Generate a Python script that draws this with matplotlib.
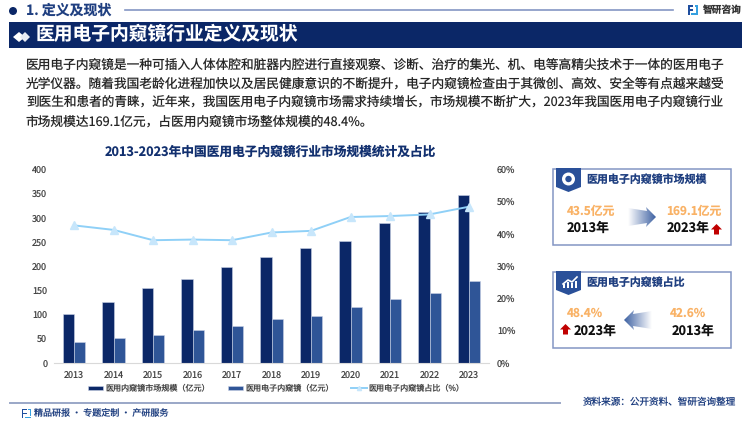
"""Medical electronic endoscope market slide."""

import matplotlib
matplotlib.use("Agg")
import matplotlib.pyplot as plt
import numpy as np
from matplotlib.patches import Circle, Polygon, Rectangle

plt.rcParams["font.family"] = ["Noto Sans CJK SC", "DejaVu Sans"]
plt.rcParams["text.hinting"] = "no_hinting"

years = ["2013", "2014", "2015", "2016", "2017", "2018", "2019", "2020", "2021", "2022", "2023"]
endoscope_market = [100, 125, 155, 174, 197, 219, 238, 252, 288, 311, 347]
electronic_market = [43.5, 51, 58, 67, 75, 90, 97, 115, 132, 144, 169.1]
electronic_share = [42.6, 41.2, 38.0, 38.2, 38.0, 40.4, 40.9, 45.2, 45.5, 46.0, 48.4]
left_ticks = [0, 50, 100, 150, 200, 250, 300, 350, 400]
right_ticks = [0, 10, 20, 30, 40, 50, 60]

series_names = ["医用内窥镜市场规模（亿元）", "医用电子内窥镜（亿元）", "医用电子内窥镜占比（%）"]
body_lines = [
    "医用电子内窥镜是一种可插入人体体腔和脏器内腔进行直接观察、诊断、治疗的集光、机、电等高精尖技术于一体的医用电子",
    "光学仪器。随着我国老龄化进程加快以及居民健康意识的不断提升，电子内窥镜检查由于其微创、高效、安全等有点越来越受",
    "到医生和患者的青睐，近年来，我国医用电子内窥镜市场需求持续增长，市场规模不断扩大，2023年我国医用电子内窥镜行业",
    "市场规模达169.1亿元，占医用内窥镜市场整体规模的48.4%。",
]
body_sizes = [9.15, 9.15, 9.1, 9.15]

NAVY = "#0B2767"
BLUE = "#2F5597"
SKY = "#8FD0F7"
ORANGE = "#F9B266"
RED = "#C00000"
BORDER = "#8496C4"

W, H = 750, 421
fig = plt.figure(figsize=(W / 100, H / 100), dpi=100, facecolor="white")

# page layer in pixel coordinates
page = fig.add_axes([0, 0, 1, 1])
page.set_xlim(0, W)
page.set_ylim(H, 0)
page.axis("off")


def put(x, y, s, size, color="#222222", bold=False, ha="left"):
    page.text(x, y, s, fontsize=size, color=color, ha=ha, va="center",
              fontweight="bold" if bold else "normal")


def logo(x, y, s=1.0):
    page.add_patch(Rectangle((x, y), 5 * s, 1.6 * s, color="#1F4E9E", lw=0))
    page.add_patch(Rectangle((x, y), 1.6 * s, 10 * s, color="#1F4E9E", lw=0))
    page.add_patch(Rectangle((x, y + 4 * s), 5 * s, 1.6 * s, color="#1F4E9E", lw=0))
    page.add_patch(Rectangle((x + 6.5 * s, y), 3.5 * s, 1.6 * s, color="#35A0E0", lw=0))
    page.add_patch(Rectangle((x + 8.4 * s, y), 1.6 * s, 8 * s, color="#35A0E0", lw=0))
    page.add_patch(Rectangle((x + 3 * s, y + 8.4 * s), 7 * s, 1.6 * s, color="#35A0E0", lw=0))


def gradient_arrow(x0, x1, y0, y1, to_right):
    # shaded arrow, fading towards its tail
    mid = (y0 + y1) / 2
    if to_right:
        pts = [(x0, y0 + 1), (x1 - 9, y0 + 4), (x1 - 10, y0), (x1, mid), (x1 - 10, y1),
               (x1 - 9, y1 - 4), (x0, y1 - 1)]
        ramp = np.linspace(0, 1, 64)
    else:
        pts = [(x1, y0 + 1), (x0 + 9, y0 + 4), (x0 + 10, y0), (x0, mid), (x0 + 10, y1),
               (x0 + 9, y1 - 4), (x1, y1 - 1)]
        ramp = np.linspace(1, 0, 64)
    tip = np.array([0x3F, 0x62, 0xA3]) / 255
    rgb = np.ones((1, 64, 3)) * (1 - ramp[None, :, None]) + tip * ramp[None, :, None]
    im = page.imshow(rgb, extent=(x0, x1, y1, y0), aspect="auto", zorder=2)
    poly = Polygon(pts, closed=True, transform=page.transData, fc="none", ec="none")
    page.add_patch(poly)
    im.set_clip_path(poly)
    page.set_xlim(0, W)
    page.set_ylim(H, 0)


def red_up(x, y):
    page.add_patch(Polygon([(x + 5.5, y), (x + 11, y + 5.5), (x + 8, y + 5.5), (x + 8, y + 10.5),
                            (x + 3, y + 10.5), (x + 3, y + 5.5), (x, y + 5.5)],
                           closed=True, fc=RED, ec="none", zorder=3))


def card(y, title):
    page.add_patch(Rectangle((553, y), 178, 76, fc="white", ec=BORDER, lw=1.1))
    page.add_patch(Polygon([(556, y - 1), (581, y - 1), (581, y + 18), (568.5, y + 23), (556, y + 18)],
                           closed=True, fc="#2A5099", ec="none", zorder=3))
    put(586, y + 11, title, 7.9, color="#1F3F80", bold=True)


# header
page.add_patch(Circle((13, 11), 4, color=NAVY, lw=0))
put(26, 10.5, "1. 定义及现状", 10, color="#1F3F80", bold=True)
page.plot([125, 673], [10, 10], color=BORDER, lw=1.2)
logo(688, 5)
put(703, 10, "智研咨询", 7, color="#333333", bold=True)
page.add_patch(Rectangle((9, 22), 733, 26, color=NAVY, lw=0))
page.add_patch(Polygon([(13, 37), (19, 32), (25, 37), (19, 42)], closed=True, fc="white", ec="none"))
page.add_patch(Polygon([(20, 37), (25, 32), (30, 37), (25, 42)], closed=True, fc="#E8ECF4", ec="none"))
put(36, 35, "医用电子内窥镜行业定义及现状", 13.5, color="white", bold=True)

for i, line in enumerate(body_lines):
    put(26, 65 + i * 19, line, body_sizes[i], color="#262626")

page.text(270, 152, "2013-2023年中国医用电子内窥镜行业市场规模统计及占比", fontsize=9.15,
          color="#12306F", fontweight="bold", ha="center", va="center")

# cards on the right
card(169, "医用电子内窥镜市场规模")
page.add_patch(Circle((568.5, 179), 6.5, fc="white", ec="none", zorder=4))
page.add_patch(Circle((568.5, 179), 3.2, fc="#2A5099", ec="none", zorder=5))
put(567, 211, "43.5亿元", 8.5, color=ORANGE, bold=True)
put(567, 228, "2013年", 9.2, color="#111111", bold=True)
put(666, 211, "169.1亿元", 8.5, color=ORANGE, bold=True)
put(667, 228, "2023年", 9.2, color="#111111", bold=True)
gradient_arrow(628, 656, 207, 227, True)
red_up(711, 224)

card(272, "医用电子内窥镜占比")
page.plot([563, 568, 572, 577], [284, 280, 282, 277], color="white", lw=1.2, zorder=4)
for bx, bh in zip([563, 567, 571, 575], [4, 6, 5, 7]):
    page.add_patch(Rectangle((bx, 288 - bh), 2.2, bh, color="white", lw=0, zorder=4))
put(567, 313, "48.4%", 8.5, color=ORANGE, bold=True)
put(574, 331, "2023年", 9.2, color="#111111", bold=True)
put(670, 313, "42.6%", 8.5, color=ORANGE, bold=True)
put(672, 331, "2013年", 9.2, color="#111111", bold=True)
gradient_arrow(624, 652, 310, 330, False)
red_up(560, 324)

# footer
page.plot([10, 560], [403, 403], color="#9AA7C7", lw=1.4)
logo(22, 409, 0.9)
put(34, 413, "精品研报 · 专题定制 · 产研服务", 6.5, color="#1F3F80")
put(583, 402, "资料来源：公开资料、智研咨询整理", 6.9, color="#1F3F80")

# chart
ax = fig.add_axes([54.3 / W, 1 - 362.7 / H, (488.8 - 54.3) / W, (362.7 - 169.3) / H])
ax.patch.set_alpha(0)
x = np.arange(len(years))
bar_w = 0.286
b1 = ax.bar(x - bar_w / 2, endoscope_market, bar_w, color=NAVY, edgecolor="#C9D2E6", linewidth=0.4,
            label=series_names[0])
b2 = ax.bar(x + bar_w / 2, electronic_market, bar_w, color=BLUE, edgecolor="#C9D2E6", linewidth=0.4,
            label=series_names[1])
ax.set_xlim(-0.5, len(years) - 0.5)
ax.set_ylim(0, 400)
ax.set_xticks(x)
ax.set_xticklabels(years)
ax.set_yticks(left_ticks)
ax.tick_params(length=0, labelsize=6.5, labelcolor="#444444")
ax.tick_params(axis="x", pad=5.5)
ax.tick_params(axis="y", pad=5)
for side in ("top", "left", "right"):
    ax.spines[side].set_visible(False)
ax.spines["bottom"].set_color("#D9D9D9")

ax2 = ax.twinx()
ax2.patch.set_alpha(0)
l1, = ax2.plot(x, electronic_share, color=SKY, lw=1.4, marker="^", markersize=6,
               markerfacecolor="#C7E6FB", markeredgecolor="#C7E6FB", label=series_names[2])
ax2.set_ylim(0, 60)
ax2.set_yticks(right_ticks)
ax2.set_yticklabels([f"{t}%" for t in right_ticks])
ax2.tick_params(length=0, labelsize=6.5, labelcolor="#444444", pad=6)
for side in ("top", "left", "right", "bottom"):
    ax2.spines[side].set_visible(False)

leg = fig.legend([b1, b2, l1], series_names, loc="center left", bbox_to_anchor=(88 / W, 1 - 388.5 / H),
                 ncol=3, frameon=False, fontsize=5.8, labelcolor="#444444", handlelength=1.9,
                 handleheight=0.5, handletextpad=0.25, columnspacing=2.2, borderpad=0,
                 borderaxespad=0, markerscale=0.5)

fig.savefig("out.png", dpi=100)
